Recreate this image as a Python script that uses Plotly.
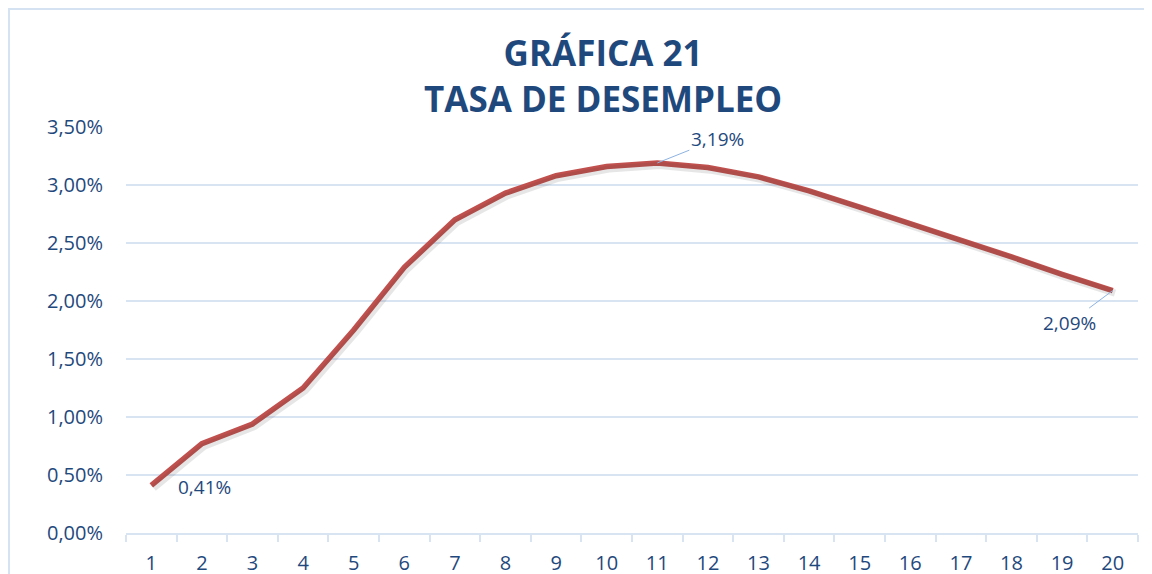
import plotly.graph_objects as go

periods = [str(i) for i in range(1, 21)]
unemployment = [0.0041, 0.0077, 0.0094, 0.0125, 0.0175, 0.0229, 0.0270, 0.0293, 0.0308, 0.0316,
                0.0319, 0.0315, 0.0307, 0.0295, 0.0281, 0.0267, 0.0252, 0.0238, 0.0223, 0.0209]
y_ticks = [0, 0.005, 0.01, 0.015, 0.02, 0.025, 0.03, 0.035]
title_lines = ["GRÁFICA 21", "TASA DE DESEMPLEO"]

TXT = "#1F497D"
GRID = "#D9E4F2"
FONT = "Open Sans"

fig = go.Figure()
# soft drop shadow of the line (drawn on slightly shifted overlay axes)
fig.add_trace(go.Scatter(
    x=periods, y=unemployment, mode="lines", xaxis="x2", yaxis="y2",
    line=dict(color="rgba(60,60,60,0.13)", width=7),
    hoverinfo="skip", showlegend=False,
))
fig.add_trace(go.Scatter(
    x=periods, y=unemployment, mode="lines",
    line=dict(color="#C0504D", width=5.5),
    hoverinfo="skip", showlegend=False,
))

def label(idx, ax, ay, arrow):
    v = unemployment[idx]
    txt = f"{v*100:.2f}%".replace(".", ",")
    fig.add_annotation(
        x=idx, y=v, text=txt, showarrow=True,
        arrowhead=0, arrowwidth=1, arrowcolor="#8DB3E2" if arrow else "rgba(0,0,0,0)",
        ax=ax, ay=ay, font=dict(family=FONT, size=19, color=TXT),
        standoff=0,
    )

label(0, 53, 2, False)
label(10, 60, -24, True)
label(19, -43, 32, True)

fig.add_annotation(
    xref="paper", yref="paper", x=0.471, y=1.128, xanchor="center", yanchor="middle",
    text=f"<b>{title_lines[0]}</b><br><b>{title_lines[1]}</b>", showarrow=False,
    font=dict(family=FONT, size=35, color=TXT),
)

fig.add_shape(type="rect", xref="paper", yref="paper",
              x0=-0.1156, x1=1.3, y0=-0.3, y1=1.2906,
              line=dict(color="#D5E2F2", width=2), fillcolor="rgba(0,0,0,0)", layer="below")

fig.update_layout(
    width=1144, height=566,
    margin=dict(l=118, r=14, t=119, b=41, autoexpand=False),
    paper_bgcolor="white", plot_bgcolor="white",
    separators=",.",
    xaxis=dict(
        type="category", range=[-0.5, 19.5], tickson="boundaries", ticks="outside", ticklen=7,
        tickcolor=GRID, tickwidth=2, showline=True, linecolor=GRID, linewidth=2,
        showgrid=False, tickfont=dict(family=FONT, size=20, color=TXT),
        ticklabelstandoff=11, automargin=False,
    ),
    yaxis=dict(
        range=[0, 0.035], tickvals=y_ticks, tickformat=".2%",
        showgrid=True, gridcolor=GRID, gridwidth=2, zeroline=False,
        tickfont=dict(family=FONT, size=20, color=TXT),
        ticks="", ticklabelstandoff=22, automargin=False,
    ),
    xaxis2=dict(type="category", overlaying="x", range=[-0.545, 19.455], visible=False),
    yaxis2=dict(overlaying="y", range=[0.00022, 0.03522], visible=False),
)

fig.write_html("out.html")
